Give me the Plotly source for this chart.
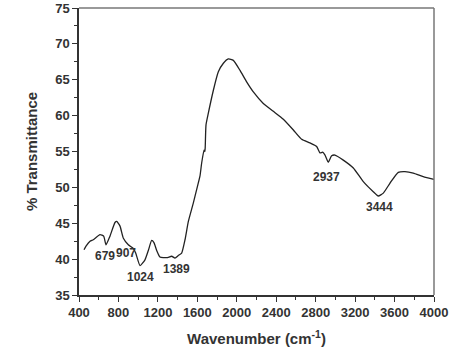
import plotly.graph_objects as go

wavenumber = [451, 471, 512, 545, 613, 650, 674, 714, 765, 782, 816, 850, 900, 951, 975, 1019,
              1069, 1103, 1137, 1160, 1188, 1221, 1289, 1340, 1373, 1407, 1441, 1475, 1509, 1559,
              1593, 1627, 1644, 1668, 1676, 1680, 1688, 1711, 1762, 1813, 1864, 1914, 1965, 2033,
              2100, 2168, 2269, 2371, 2472, 2574, 2658, 2742, 2810, 2844, 2871, 2895, 2928, 2962,
              2996, 3080, 3182, 3283, 3384, 3435, 3486, 3554, 3638, 3706, 3790, 3891, 4000]
transmittance = [41.3, 41.8, 42.5, 42.7, 43.4, 43.2, 42.0, 43.2, 45.1, 45.25, 44.6, 42.9, 42.0, 41.5,
                 40.85, 39.1, 39.9, 41.2, 42.6, 42.3, 41.2, 40.3, 40.2, 40.4, 40.15, 40.5, 40.85,
                 42.7, 45.25, 47.8, 49.7, 51.6, 53.4, 55.2, 55.0, 55.6, 58.7, 60.3, 63.5, 66.1, 67.3,
                 67.9, 67.7, 66.3, 64.7, 63.3, 61.7, 60.6, 59.5, 58.0, 56.7, 56.2, 55.7, 54.8, 54.9,
                 54.5, 53.5, 54.4, 54.5, 53.8, 52.7, 50.8, 49.4, 48.8, 49.2, 50.6, 52.1, 52.2, 52.0,
                 51.5, 51.1]

label_text = ["679", "907", "1024", "1389", "2937", "3444"]
label_x = [664, 877, 1019, 1384, 2914, 3452]
label_y = [40.4, 40.85, 37.5, 38.6, 51.4, 47.2]

fig = go.Figure()
fig.add_trace(go.Scatter(x=wavenumber, y=transmittance, mode="lines",
                         line=dict(color="#222222", width=1.3, shape="spline", smoothing=0.5),
                         showlegend=False, hoverinfo="skip"))

for t, x, y in zip(label_text, label_x, label_y):
    fig.add_annotation(x=x, y=y, text="<b>%s</b>" % t, showarrow=False,
                       font=dict(family="Liberation Sans, Arial", size=12, color="#333333"))

axis_font = dict(family="Liberation Sans, Arial", size=13, color="#333333")
xt = [400, 800, 1200, 1600, 2000, 2400, 2800, 3200, 3600, 4000]
yt = [35, 40, 45, 50, 55, 60, 65, 70, 75]
fig.update_layout(
    width=474, height=357,
    margin=dict(l=79, r=40, t=8, b=62, autoexpand=False),
    paper_bgcolor="white", plot_bgcolor="white",
    xaxis=dict(range=[400, 4000], tickvals=xt, ticktext=["<b>%d</b>" % v for v in xt],
               ticks="outside", ticklen=5, tickcolor="#333333", tickwidth=1,
               minor=dict(dtick=200, ticks="outside", ticklen=3, tickcolor="#333333"),
               showline=True, linecolor="#333333", linewidth=1.5,
               showgrid=False, zeroline=False, tickfont=axis_font, automargin=False,
               title=dict(text="<b>Wavenumber (cm<sup>-1</sup>)</b>",
                          font=dict(family="Liberation Sans, Arial", size=15, color="#333333"), standoff=14)),
    yaxis=dict(range=[35, 75], tickvals=yt, ticktext=["<b>%d</b>" % v for v in yt],
               ticks="outside", ticklen=5, tickcolor="#333333", tickwidth=1,
               minor=dict(dtick=2.5, ticks="outside", ticklen=3, tickcolor="#333333"),
               showline=True, linecolor="#333333", linewidth=1.5,
               showgrid=False, zeroline=False, tickfont=axis_font, automargin=False,
               title=dict(text="<b>% Transmittance</b>",
                          font=dict(family="Liberation Sans, Arial", size=15, color="#333333"), standoff=14)),
)
fig.add_shape(type="line", xref="paper", yref="paper", x0=0, x1=1, y0=1, y1=1,
              line=dict(color="#777777", width=1.5))
fig.add_shape(type="line", xref="paper", yref="paper", x0=1, x1=1, y0=0, y1=1,
              line=dict(color="#777777", width=1.5))

fig.write_html("out.html", config={"displayModeBar": False},
               post_script="document.body.style.margin='0';document.body.style.padding='0';")
